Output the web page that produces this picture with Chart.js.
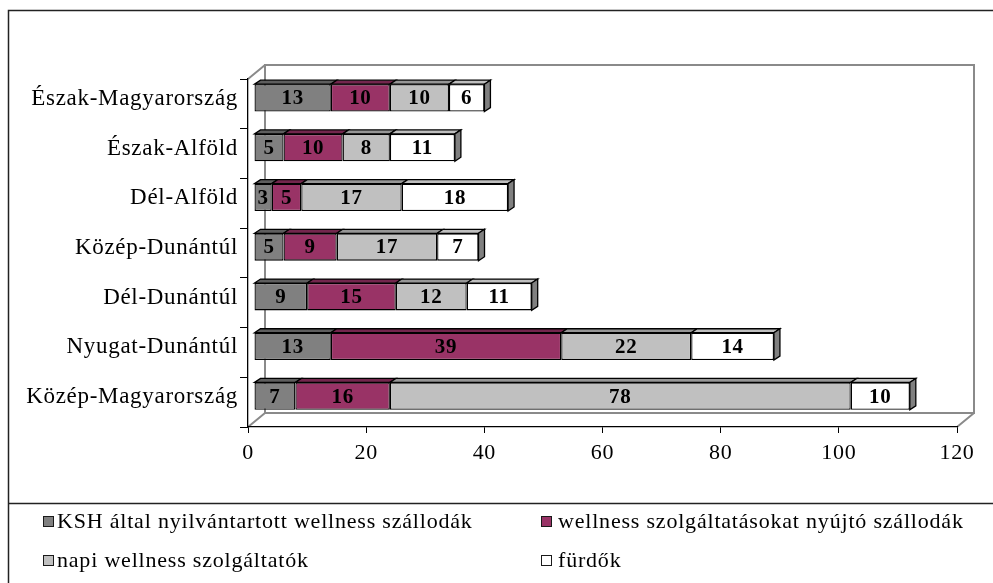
<!DOCTYPE html>
<html lang="hu">
<head>
<meta charset="utf-8">
<title>Wellness kínálat régiónként</title>
<script src="https://cdn.jsdelivr.net/npm/chart.js@4.4.1/dist/chart.umd.min.js"></script>
<style>
  html, body { margin: 0; padding: 0; background: #fff; }
  #wrap { position: relative; width: 993px; height: 583px; overflow: hidden; }
  #chart { position: absolute; left: 0; top: 0; }
  .lg-box { position: absolute; width: 9px; height: 9px; border: 1.5px solid #1a1a1a; }
  .lg-text {
    position: absolute; white-space: nowrap; color: #000;
    font: 22px 'Liberation Serif', 'Times New Roman', serif; line-height: 22px;
    letter-spacing: 0.8px;
  }
</style>
</head>
<body>
<div id="wrap">
  <canvas id="chart" width="993" height="583"></canvas>
</div>
<script>
// Régiók felülről lefelé, a négy sorozat értékei ugyanebben a sorrendben
const regions = [
  'Észak-Magyarország', 'Észak-Alföld', 'Dél-Alföld', 'Közép-Dunántúl',
  'Dél-Dunántúl', 'Nyugat-Dunántúl', 'Közép-Magyarország',
];
const seriesNames = [
  'KSH által nyilvántartott wellness szállodák',
  'wellness szolgáltatásokat nyújtó szállodák',
  'napi wellness szolgáltatók',
  'fürdők',
];
const kshHotels = [13, 5, 3, 5, 9, 13, 7];
const wellnessHotels = [10, 10, 5, 9, 15, 39, 16];
const dayWellness = [10, 8, 17, 17, 12, 22, 78];
const baths = [6, 11, 18, 7, 11, 14, 10];
const xMin = 0, xMax = 120, xStep = 20;

const FONT = "'Liberation Serif', 'Times New Roman', serif";
const FRONT = ['#808080', '#993366', '#c0c0c0', '#ffffff'];
const TOP = ['#5e5e5e', '#73264d', '#969696', '#bfbfbf'];
const SIDE = '#808080';
const WALL_DEPTH = { x: 17, y: -14 };
const BAR_SHIFT = { x: 6, y: -6 };
const BAR_DEPTH = { x: 6, y: -4 };

const seriesValues = [kshHotels, wellnessHotels, dayWellness, baths];

function poly(ctx, pts, fill, stroke, width) {
  ctx.beginPath();
  pts.forEach(([x, y], i) => (i ? ctx.lineTo(x, y) : ctx.moveTo(x, y)));
  ctx.closePath();
  if (fill) { ctx.fillStyle = fill; ctx.fill(); }
  if (stroke) { ctx.strokeStyle = stroke; ctx.lineWidth = width; ctx.stroke(); }
}

// Outer frame, 3D walls, bar depth faces and value labels
const threeD = {
  id: 'threeD',
  beforeDraw(chart) {
    const { ctx } = chart;
    ctx.letterSpacing = '0.7px';
    ctx.save();
    ctx.strokeStyle = '#222';
    ctx.lineWidth = 1.5;
    ctx.beginPath();
    ctx.moveTo(8.5, 583); ctx.lineTo(8.5, 10.5); ctx.lineTo(993, 10.5);
    ctx.moveTo(8.5, 503.5); ctx.lineTo(993, 503.5);
    ctx.stroke();

    const { left, right, top, bottom } = chart.chartArea;
    const dx = WALL_DEPTH.x, dy = WALL_DEPTH.y;
    ctx.strokeStyle = '#8a8a8a';
    ctx.lineWidth = 2;
    ctx.strokeRect(left + dx, top + dy, right - left, bottom - top);
    ctx.beginPath();
    ctx.moveTo(left, top); ctx.lineTo(left + dx, top + dy);
    ctx.moveTo(left, bottom); ctx.lineTo(left + dx, bottom + dy);
    ctx.moveTo(right, bottom); ctx.lineTo(right + dx, bottom + dy);
    ctx.stroke();
    ctx.restore();
  },
  beforeDatasetsDraw(chart) {
    const { ctx } = chart;
    ctx.save();
    ctx.translate(BAR_SHIFT.x, BAR_SHIFT.y);
    const last = chart.data.datasets.length - 1;
    chart.data.datasets.forEach((ds, di) => {
      chart.getDatasetMeta(di).data.forEach(el => {
        const { x, y, base, height } = el.getProps(['x', 'y', 'base', 'height'], true);
        const t = y - height / 2, b = y + height / 2;
        const ox = BAR_DEPTH.x, oy = BAR_DEPTH.y;
        poly(ctx, [[base, t], [x, t], [x + ox, t + oy], [base + ox, t + oy]], TOP[di], '#000', 1.3);
        if (di === last) {
          poly(ctx, [[x, t], [x + ox, t + oy], [x + ox, b + oy], [x, b]], SIDE, '#000', 1.3);
        }
      });
    });
  },
  afterDatasetsDraw(chart) {
    const { ctx } = chart;
    ctx.font = `bold 21px ${FONT}`;
    ctx.fillStyle = '#000';
    ctx.textAlign = 'center';
    ctx.textBaseline = 'middle';
    chart.data.datasets.forEach((ds, di) => {
      chart.getDatasetMeta(di).data.forEach((el, i) => {
        const { x, y, base } = el.getProps(['x', 'y', 'base'], true);
        ctx.fillText(String(ds.data[i]), (x + base) / 2, y + 1);
      });
    });
    ctx.restore();
  },
};

new Chart(document.getElementById('chart'), {
  type: 'bar',
  data: {
    labels: regions,
    datasets: seriesValues.map((values, i) => ({
      label: seriesNames[i],
      data: values,
      backgroundColor: FRONT[i],
      borderColor: '#000',
      borderWidth: 1.3,
      borderSkipped: false,
      categoryPercentage: 1,
      barPercentage: 0.55,
    })),
  },
  options: {
    indexAxis: 'y',
    responsive: false,
    animation: false,
    layout: { padding: { top: 79, right: 36, left: 0, bottom: 0 } },
    plugins: { legend: { display: false }, tooltip: { enabled: false } },
    scales: {
      x: {
        stacked: true,
        min: xMin,
        max: xMax,
        ticks: { stepSize: xStep, color: '#000', font: { family: FONT, size: 22 }, padding: 7, maxRotation: 0 },
        grid: { drawOnChartArea: false, tickLength: 6, color: '#000', lineWidth: 1 },
        border: { color: '#000', width: 1.3 },
        afterFit: scale => { scale.height = 156; },
      },
      y: {
        stacked: true,
        ticks: { color: '#000', font: { family: FONT, size: 23 }, padding: 2, labelOffset: -5 },
        grid: { drawOnChartArea: false, tickLength: 8, color: '#000', lineWidth: 1 },
        border: { color: '#000', width: 1.3 },
        afterFit: scale => { scale.width = 248; },
      },
    },
  },
  plugins: [threeD],
});

// Legend below the separator line, two columns
const legendSpots = [[43, 516], [541, 516], [43, 555], [541, 555]];
const wrap = document.getElementById('wrap');
seriesNames.forEach((name, i) => {
  const [lx, ly] = legendSpots[i];
  const box = document.createElement('div');
  box.className = 'lg-box';
  box.style.left = lx + 'px';
  box.style.top = ly + 'px';
  box.style.background = FRONT[i];
  wrap.appendChild(box);
  const text = document.createElement('div');
  text.className = 'lg-text';
  text.style.left = (lx + (lx > 300 ? 17 : 14)) + 'px';
  text.style.top = (ly - 6) + 'px';
  text.textContent = name;
  wrap.appendChild(text);
});
</script>
</body>
</html>
